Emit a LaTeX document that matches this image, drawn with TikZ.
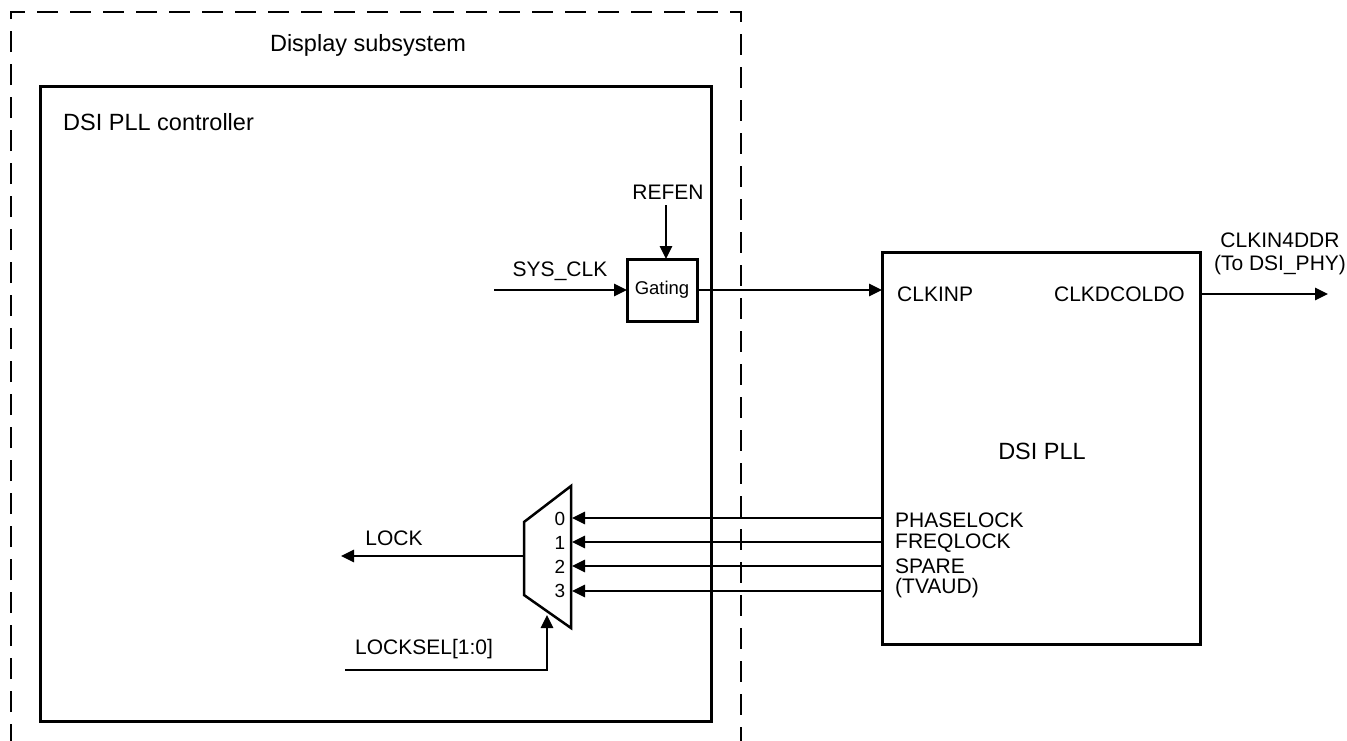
\documentclass[tikz,border=0pt]{standalone}
\usepackage{fontspec}
\setmainfont{Liberation Sans}
\usetikzlibrary{arrows.meta}
\begin{document}
\begin{tikzpicture}[x=1pt,y=-1pt,
  lbl/.style={font=\fontsize{21}{23}\selectfont, inner sep=0pt},
  biglbl/.style={font=\fontsize{23.5}{25}\selectfont, inner sep=0pt},
  smalllbl/.style={font=\fontsize{19}{20}\selectfont, inner sep=0pt},
  conn/.style={line width=1.4pt, -{Triangle[length=13pt,width=12.5pt]}},
  blk/.style={draw, line width=3pt, inner sep=0pt, outer sep=0pt}]
\useasboundingbox (0,0) rectangle (1347,740);
% display subsystem (dashed, open at bottom)
\draw[line width=2pt, dash pattern=on 21pt off 12pt] (11,745) -- (11,12) -- (741,12) -- (741,745);
\node[biglbl] (title) at (368,45) {Display subsystem};
% controller
\node[blk, minimum width=671pt, minimum height=635pt, anchor=north west] (ctrl) at (40,86) {};
\node[biglbl, anchor=west] (ctrllbl) at (63,122) {DSI PLL controller};
% gating
\node[blk, minimum width=70pt, minimum height=62pt, anchor=north west, font=\fontsize{18.5}{20}\selectfont] (gate) at (627,259) {Gating};
\node[lbl] (refen) at (668,192) {REFEN};
\coordinate (refx) at (666,192);
\draw[conn, shorten <=13pt] (refx) -- (refx |- gate.north);
\coordinate (sysin) at (494,290);
\draw[conn] (sysin) -- (gate.west);
\node[lbl] (syslbl) at (560,271) {SYS\_CLK};
% DSI PLL
\node[blk, minimum width=318pt, minimum height=392pt, anchor=north west] (pll) at (882,252) {};
\node[biglbl] (plllbl) at (1042,451) {DSI PLL};
\node[lbl, anchor=west] (clkinp) at (897,294) {CLKINP};
\node[lbl, anchor=east] (clkdco) at (1185,294) {CLKDCOLDO};
\draw[conn] (gate.east) -- (gate.east -| pll.west);
\coordinate (out) at (1328,294);
\draw[conn] (pll.east |- out) -- (out);
\node[lbl, align=center] (outlbl) at (1280,254) {CLKIN4DDR\\(To DSI\_PHY)};
% pin labels
\node[lbl, anchor=west] (phl) at (895,520) {PHASELOCK};
\node[lbl, anchor=west] (frl) at (895,543) {FREQLOCK};
\node[lbl, anchor=west] (spl) at (895,566) {SPARE};
\node[lbl, anchor=west] (tvl) at (895,588) {(TVAUD)};
% mux
\draw[line width=2.5pt, line join=miter] (524,522) -- (571,486) -- (571,628) -- (524,595) -- cycle;
\coordinate (m0) at (572,518);
\coordinate (m1) at (572,542);
\coordinate (m2) at (572,566);
\coordinate (m3) at (572,591);
\coordinate (mout) at (524,556);
\coordinate (msel) at (547,615);
\draw[conn] (pll.west |- m0) -- (m0);
\draw[conn] (pll.west |- m1) -- (m1);
\draw[conn] (pll.west |- m2) -- (m2);
\draw[conn] (pll.west |- m3) -- (m3);
\node[smalllbl] (d0) at (560,519) {0};
\node[smalllbl] (d1) at (560,543) {1};
\node[smalllbl] (d2) at (560,567) {2};
\node[smalllbl] (d3) at (560,591) {3};
\coordinate (lockout) at (341,556);
\draw[conn] (mout) -- (lockout);
\node[lbl] (locklbl) at (394,538) {LOCK};
\coordinate (selin) at (345,670);
\draw[conn] (selin) -| (msel);
\node[lbl] (sellbl) at (424,649) {LOCKSEL[1:0]};
\end{tikzpicture}
\end{document}
